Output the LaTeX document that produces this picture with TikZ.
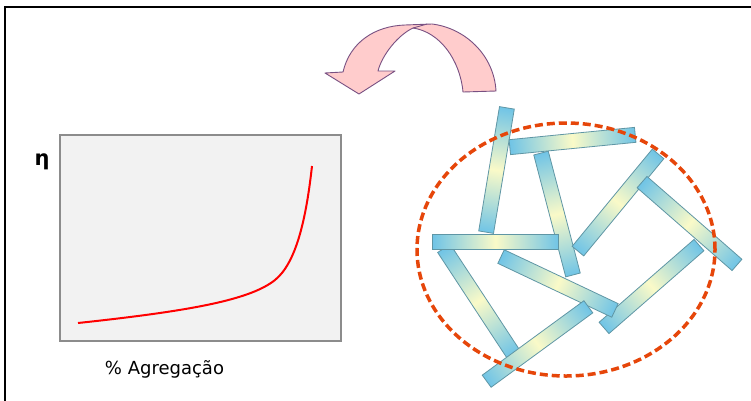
\documentclass[tikz,border=0pt]{standalone}
\usepackage{fontspec}
\setmainfont{DejaVu Sans}
\usetikzlibrary{shapes.geometric}
\definecolor{rodin}{RGB}{250,250,200}
\definecolor{rodout}{RGB}{112,196,230}
\definecolor{rodedge}{RGB}{95,150,165}
\definecolor{ellcol}{RGB}{230,70,10}
\definecolor{arrfill}{RGB}{255,204,204}
\definecolor{arredge}{RGB}{120,80,130}
\definecolor{boxfill}{RGB}{242,242,242}
\definecolor{boxedge}{RGB}{140,140,140}
\tikzset{
  rod/.style={rectangle, draw=rodedge, line width=0.8pt, inner sep=0pt,
    minimum width=126pt, minimum height=15pt,
    left color=rodout, right color=rodout, middle color=rodin},
  arrowshape/.style={fill=arrfill, draw=arredge, line width=0.9pt, line join=round},
  plotbox/.style={rectangle, draw=boxedge, fill=boxfill, line width=2pt, inner sep=0pt,
    minimum width=281pt, minimum height=206pt},
  aggring/.style={ellipse, draw=ellcol, line width=3.5pt, dash pattern=on 8pt off 4pt,
    inner sep=0pt, minimum width=298pt, minimum height=253pt},
  curve/.style={draw=red, line width=2pt},
  lbl/.style={inner sep=0pt, font=\fontsize{18}{21}\selectfont},
  frameline/.style={line width=2pt, draw=black}
}
\newcommand\rodnode[4]{%
  \begin{scope}[transform canvas={shift={(#2,#3)},rotate=#4}]
    \node[rod] (#1) at (0,0) {};
  \end{scope}}
\begin{document}
\begin{tikzpicture}[x=1pt,y=-1pt]
\useasboundingbox (0,0) rectangle (751,400);
\fill[white] (0,0) rectangle (751,400);
% frame
\coordinate (fbl) at (5,401);
\coordinate (ftl) at (5,7);
\coordinate (ftr) at (752,7);
\draw[frameline] (fbl) -- (ftl) -- (ftr);
% plot
\node[plotbox] (box) at (200.5,238) {};
\draw[curve] (78,323) .. controls (190,311) and (250,300) .. (275,280)
  .. controls (296,263) and (306,220) .. (312,166);
\node[inner sep=0pt, font=\fontsize{21}{23}\selectfont\bfseries] (eta) at (42,162) {η};
\node[lbl] (xlab) at (164.5,369) {\% Agregação};
% curved arrow
\draw[arrowshape] (463,92) .. controls (460,60) and (440,32) .. (413,28)
  .. controls (398,35) and (382,55) .. (378,71)
  -- (395,71) -- (359,94) -- (325,73) -- (343,72)
  .. controls (350,42) and (375,26) .. (405,25) -- (432,24)
  .. controls (465,28) and (494,55) .. (496,91) -- cycle;
\coordinate (tw1) at (413,28);
\coordinate (tw2) at (427,24);
\draw[arredge, line width=0.9pt] (tw1) -- (tw2);
% rods
\rodnode{r1}{496.5}{170}{80.5}
\rodnode{r3}{557}{214}{-75.3}
\rodnode{r2}{572.5}{141}{5.6}
\rodnode{r7}{478.5}{301}{-56.7}
\rodnode{r6}{495.5}{242}{0}
\rodnode{r4}{618}{202.5}{50.5}
\rodnode{r5}{689.5}{223.5}{-41.1}
\rodnode{r9}{651.5}{286.5}{41.1}
\rodnode{r8}{558}{283.5}{-25.3}
\rodnode{r10}{537.5}{344}{36.2}
% aggregate ring
\node[aggring] (ring) at (566,249.5) {};
\end{tikzpicture}
\end{document}
